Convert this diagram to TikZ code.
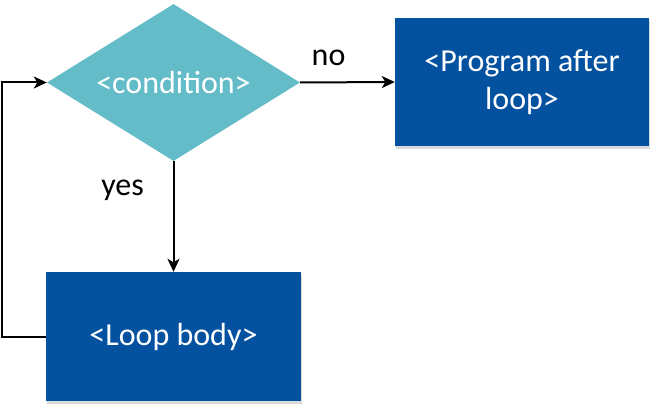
\documentclass[tikz,border=0pt]{standalone}
\usepackage{fontspec}
\setmainfont{Carlito}
\usetikzlibrary{shapes.geometric,arrows.meta,shadows}
\definecolor{condteal}{RGB}{100,188,200}
\definecolor{boxblue}{RGB}{4,81,160}
\begin{document}
\begin{tikzpicture}[x=1pt, y=-1pt,
		box/.style={rectangle, fill=boxblue, text=white, align=center, inner sep=0pt,
			drop shadow={opacity=0.3, shadow xshift=1pt, shadow yshift=-3pt}},
		decision/.style={diamond, aspect=1.6, fill=condteal, text=white, inner sep=0pt,
			minimum width=253pt, minimum height=157pt},
		flow/.style={draw=black, line width=2pt, -{Stealth[length=13pt,width=12pt,inset=3.5pt]}}]
		\useasboundingbox (0,0) rectangle (660,414);
		\fontsize{32}{38}\selectfont
		
		% Decision
		\node[decision] (cond) at (173.5, 82.5) {<condition>};
		
		% Boxes
		\node[box, minimum width=254pt, minimum height=128pt] (after) at (522, 82) {<Program after\\loop>};
		\node[box, minimum width=255pt, minimum height=129pt] (body) at (173.5, 336.5) {<Loop body>};
		
		% Connectors
		\draw[flow] (cond.east) -- (after.west) node[pos=0.3, above=5pt] {no};
		\draw[flow] (cond.south) -- (body.north) node[pos=0.26, left=18pt] {yes};
		\draw[flow] (body.west) -- ++(-44,0) |- (cond.west);
	\end{tikzpicture}
\end{document}
